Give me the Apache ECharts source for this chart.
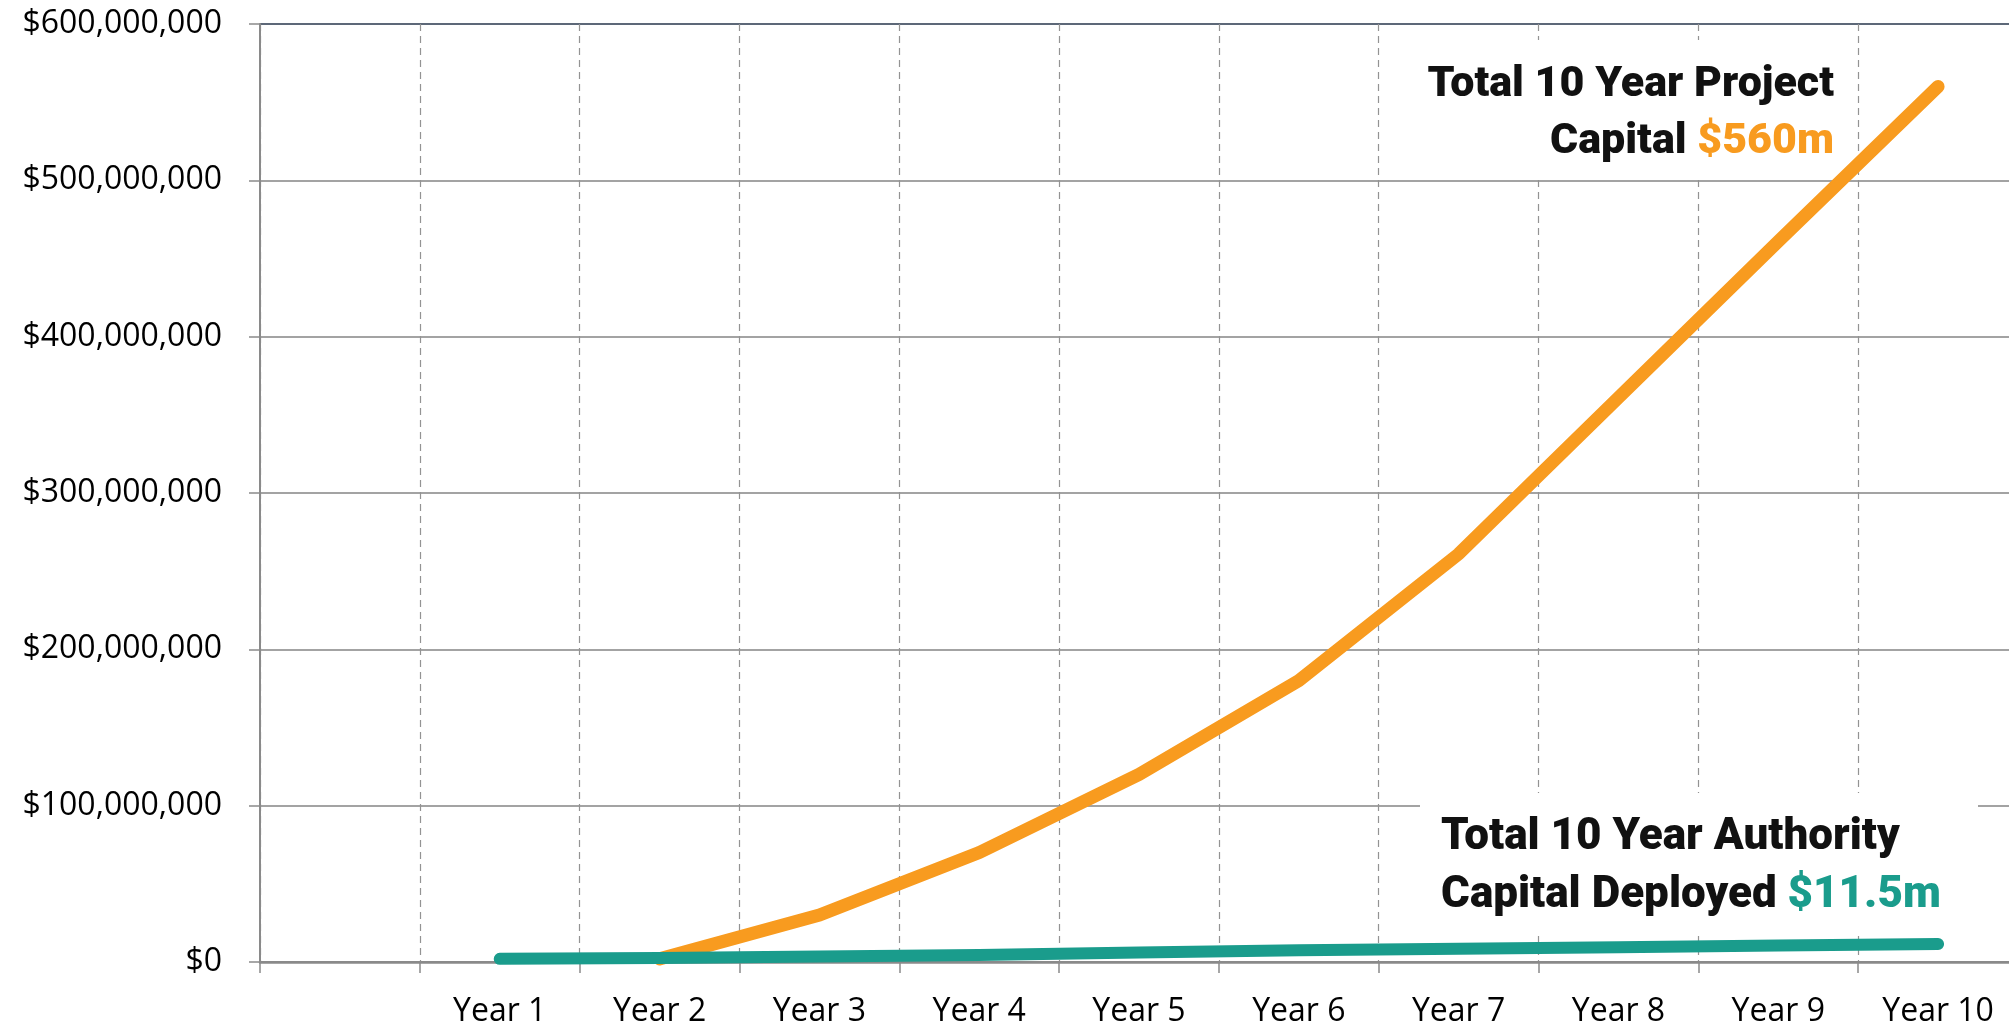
<!DOCTYPE html>
<html>
<head>
<meta charset="utf-8">
<script src="https://cdn.jsdelivr.net/npm/echarts@6/dist/echarts.min.js"></script>
<style>
	html, body { margin: 0; padding: 0; background: #fff; overflow: hidden; }
	/* the plot area runs a few px past the right edge of the picture */
	#chart { width: 2018px; height: 1028px; }
</style>
</head>
<body>
<div id="chart"></div>
<script>
// first slot is an empty category, like the original workbook
var years = ['', 'Year 1', 'Year 2', 'Year 3', 'Year 4', 'Year 5', 'Year 6', 'Year 7', 'Year 8', 'Year 9', 'Year 10'];
var projectCapital = [null, null, 2000000, 30000000, 70000000, 120000000, 180000000, 261000000, 361000000, 461000000, 560000000];
var authorityCapital = [null, 2000000, 2500000, 3500000, 4500000, 6000000, 7500000, 8500000, 9500000, 10500000, 11500000];
var yTicks = [0, 100000000, 200000000, 300000000, 400000000, 500000000, 600000000];

var ORANGE = '#F89B1F', TEAL = '#1A9C8C';

function money(v) {
	return '$' + String(v).replace(/\B(?=(\d{3})+(?!\d))/g, ',');
}

var myChart = echarts.init(document.getElementById('chart'));

var option = {
	animation: false,
	grid: {
		left: 260,
		right: 0,
		top: 24,
		bottom: 66
	},
	xAxis: {
		type: 'category',
		data: years,
		boundaryGap: true,
		axisLine: { lineStyle: { color: '#8a8a8a', width: 2.5 } },
		axisTick: { show: true, length: 11, lineStyle: { color: '#8a8a8a', width: 1.5 } },
		axisLabel: {
			margin: 34,
			color: '#000',
			fontFamily: 'Open Sans',
			fontSize: 32,
			interval: 0
		},
		splitLine: {
			show: true,
			lineStyle: { color: '#939393', width: 1.2, type: [7, 5] }
		}
	},
	yAxis: {
		type: 'value',
		min: yTicks[0],
		max: yTicks[yTicks.length - 1],
		interval: yTicks[1] - yTicks[0],
		axisLine: { show: true, lineStyle: { color: '#8a8a8a', width: 2 } },
		axisTick: { show: true, length: 11, lineStyle: { color: '#8a8a8a', width: 1.5 } },
		axisLabel: {
			margin: 38,
			color: '#000',
			fontFamily: 'Open Sans',
			fontSize: 32,
			formatter: money
		},
		splitLine: {
			lineStyle: {
				color: ['#8a8a8a', '#a3a3a3', '#a3a3a3', '#a3a3a3', '#a3a3a3', '#a3a3a3', '#5d6878'],
				width: 2
			}
		}
	},
	graphic: [
		{
			type: 'rect', z: 1, silent: true,
			shape: { x: 1390, y: 40, width: 465, height: 136 },
			style: { fill: '#fff' }
		},
		{
			type: 'text', z: 1, z2: 10, silent: true,
			style: {
				x: 1834, y: 57,
				align: 'right', verticalAlign: 'top',
				text: '{b|Total 10 Year Project}\n{b|Capital }{o|$560m}',
				rich: {
					b: { fontFamily: 'Roboto', fontWeight: 900, fontSize: 43, lineHeight: 57, fill: '#111' },
					o: { fontFamily: 'Roboto', fontWeight: 900, fontSize: 43, lineHeight: 57, fill: ORANGE }
				}
			}
		},
		{
			type: 'rect', z: 1, silent: true,
			shape: { x: 1420, y: 793, width: 558, height: 139 },
			style: { fill: '#fff' }
		},
		{
			type: 'text', z: 1, z2: 10, silent: true,
			style: {
				x: 1441, y: 809,
				align: 'left', verticalAlign: 'top',
				text: '{b|Total 10 Year Authority}\n{b|Capital Deployed }{t|$11.5m}',
				rich: {
					b: { fontFamily: 'Roboto', fontWeight: 900, fontSize: 44, lineHeight: 58, fill: '#111' },
					t: { fontFamily: 'Roboto', fontWeight: 900, fontSize: 44, lineHeight: 58, fill: TEAL }
				}
			}
		}
	],
	series: [
		{
			name: 'Total Project Capital',
			type: 'line',
			data: projectCapital,
			symbol: 'none',
			lineStyle: { color: ORANGE, width: 13, cap: 'round', join: 'miter' }
		},
		{
			name: 'Authority Capital Deployed',
			type: 'line',
			data: authorityCapital,
			symbol: 'none',
			lineStyle: { color: TEAL, width: 12, cap: 'round', join: 'miter' }
		}
	]
};

myChart.setOption(option);
</script>
</body>
</html>
